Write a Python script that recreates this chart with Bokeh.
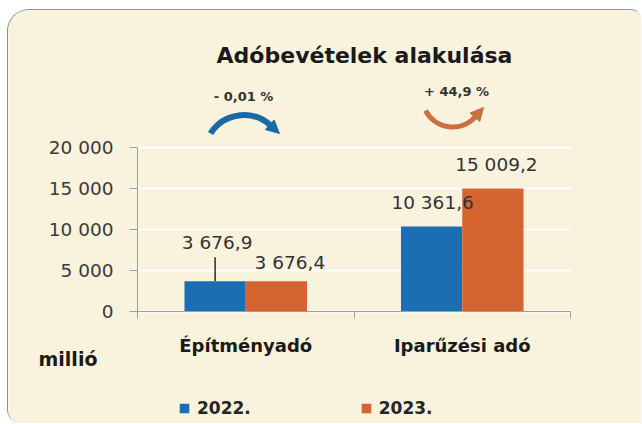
import math
from bokeh.plotting import figure
from bokeh.models import (Range1d, FixedTicker, Label, Legend, LegendItem,
                          Arrow, NormalHead)
from bokeh.embed import file_html
from bokeh.resources import INLINE
from bokeh.core.properties import value

# ---------------- data ----------------
categories = ["Építményadó", "Iparűzési adó"]
years = ["2022.", "2023."]
v2022 = [3676.9, 10361.6]
v2023 = [3676.4, 15009.2]
labels2022 = ["3 676,9", "10 361,6"]
labels2023 = ["3 676,4", "15 009,2"]
changes = ["- 0,01 %", "+ 44,9 %"]
yticks = [0, 5000, 10000, 15000, 20000]
ytick_labels = ["0", "5 000", "10 000", "15 000", "20 000"]
title_text = "Adóbevételek alakulása"
unit_text = "millió"

# ---------------- layout (page pixels) ----------------
OX, OY = 8, 10         # canvas origin on page
W, H = 634, 414
FX, FY = 137, 311      # page position of the axes' origin
FW = 433               # width spanned by the categories
Y20 = 147              # page y of 20 000
PXU = FW / len(categories)
PYU = (FY - Y20) / 20000.0


def dx(px):
    return (px - FX) / PXU


def dy(py):
    return (FY - py) / PYU


BLUE = "#1c6eb2"
ORANGE = "#d66430"
BLUE_ARROW = "#1869a5"
ORANGE_ARROW = "#c87040"
BEIGE = "#f9f2dc"
AXIS = "#9a9dac"
FONT = "DejaVu Sans"

p = figure(width=W, height=H,
           x_range=Range1d(dx(OX), dx(OX + W)), y_range=Range1d(dy(OY + H), dy(OY)),
           output_backend="svg", toolbar_location=None, title=None,
           min_border=0, min_border_left=0, min_border_right=0,
           min_border_top=0, min_border_bottom=0)
p.background_fill_color = BEIGE
p.border_fill_color = BEIGE
p.outline_line_color = None
p.styles = {"margin-left": f"{OX - 1}px", "margin-top": f"{OY - 1}px",
            "border-top": "1px solid #8f8f8f", "border-left": "1px solid #8f8f8f",
            "border-radius": "22px 10px 0 14px", "overflow": "hidden"}

# grid: white lines across the category span only
p.xgrid.grid_line_color = None
p.ygrid.grid_line_color = None
ncat = len(categories)
p.segment(x0=[0] * len(yticks), x1=[ncat] * len(yticks), y0=yticks, y1=yticks,
          line_color="#ffffff", line_width=2)

# y axis (fixed at x = 0)
ya = p.yaxis[0]
ya.fixed_location = 0
ya.ticker = FixedTicker(ticks=yticks)
ya.major_label_overrides = dict(zip(yticks, ytick_labels))
ya.bounds = (0, yticks[-1])
ya.major_tick_out = 8
ya.major_tick_in = 0
ya.minor_tick_out = 0
ya.minor_tick_in = 0
ya.axis_line_color = AXIS
ya.major_tick_line_color = AXIS
ya.major_label_standoff = 16
ya.major_label_text_font = FONT
ya.major_label_text_font_size = "18.5px"
ya.major_label_text_color = "#3a3a3a"

# x axis (fixed at y = 0)
xa = p.xaxis[0]
xa.fixed_location = 0
centers = [i + 0.5 for i in range(ncat)]
xa.ticker = FixedTicker(ticks=centers, minor_ticks=list(range(ncat + 1)))
xa.major_label_overrides = dict(zip(centers, categories))
xa.bounds = (0, ncat)
xa.major_tick_out = 0
xa.major_tick_in = 0
xa.minor_tick_out = 7
xa.minor_tick_in = 0
xa.minor_tick_line_color = AXIS
xa.axis_line_color = AXIS
xa.major_label_standoff = 16
xa.major_label_text_font = FONT
xa.major_label_text_font_style = "bold"
xa.major_label_text_font_size = "18px"
xa.major_label_text_color = "#1a1a1a"

# bars
bw = 0.283
x22 = [c - bw / 2 for c in centers]
x23 = [c + bw / 2 for c in centers]
r22 = p.vbar(x=x22, top=v2022, bottom=0, width=bw, fill_color=BLUE, line_color=None)
r23 = p.vbar(x=x23, top=v2023, bottom=0, width=bw, fill_color=ORANGE, line_color=None)

# leader line for first label
p.segment(x0=[x22[0]], y0=[v2022[0]], x1=[x22[0]], y1=[v2022[0] + 24 / PYU],
          line_color="#2a2a2a", line_width=1.5)

# data labels (pixel nudges kept apart from the data)
nudge22 = [2.0, 1.0]
gap22 = [39, 24]
nudge23 = [13.5, 3.5]
gap23 = [19, 24]
p.text(x=[x + n / PXU for x, n in zip(x22, nudge22)],
       y=[v + g / PYU for v, g in zip(v2022, gap22)], text=labels2022,
       text_font=value(FONT), text_font_size="18.5px", text_color="#333333",
       text_align="center", text_baseline="middle")
p.text(x=[x + n / PXU for x, n in zip(x23, nudge23)],
       y=[v + g / PYU for v, g in zip(v2023, gap23)], text=labels2023,
       text_font=value(FONT), text_font_size="18.5px", text_color="#333333",
       text_align="center", text_baseline="middle")

# title
p.add_layout(Label(x=dx(364), y=dy(54.5), text=title_text, text_font=FONT,
                   text_font_style="bold", text_font_size="22px", text_color="#1a1a1a",
                   text_align="center", text_baseline="middle"))

# change labels
p.text(x=[dx(243), dx(456)], y=[dy(95.5), dy(91)], text=changes,
       text_font=value(FONT), text_font_style="bold", text_font_size="13px",
       text_color="#333333", text_align="center", text_baseline="middle")


# curved arrows
def curved_arrow(cx, cy, r, a0, a1, head_at_start_of_cw, color, lw):
    p.arc(x=[dx(cx)], y=[dy(cy)], radius=r, radius_units="screen",
          start_angle=math.radians(a0), end_angle=math.radians(a1),
          line_color=color, line_width=lw)
    if head_at_start_of_cw:
        a = math.radians(a0)
        d = a - math.pi / 2
    else:
        a = math.radians(a1)
        d = a + math.pi / 2
    ex, ey = cx + r * math.cos(a), cy - r * math.sin(a)
    tx, ty = ex + 12 * math.cos(d), ey - 12 * math.sin(d)
    p.add_layout(Arrow(end=NormalHead(size=13, fill_color=color, line_color=color, line_width=1),
                       x_start=dx(ex), y_start=dy(ey), x_end=dx(tx), y_end=dy(ty),
                       line_color=None))


curved_arrow(243.4, 154.1, 39.5, 47.6, 147.7, True, BLUE_ARROW, 6)
curved_arrow(452.1, 95.95, 30.5, -152.6, -41.2, False, ORANGE_ARROW, 5)

# unit label
p.add_layout(Label(x=dx(67.5), y=dy(358), text=unit_text, text_font=FONT,
                   text_font_style="bold", text_font_size="19px", text_color="#1a1a1a",
                   text_align="center", text_baseline="middle"))

# legend
legend = Legend(items=[LegendItem(label=years[0], renderers=[r22]),
                       LegendItem(label=years[1], renderers=[r23])],
                orientation="horizontal", location=(178 - OX, OY + H - 418),
                glyph_width=12, glyph_height=12, label_standoff=7, spacing=109,
                padding=0, margin=0, border_line_color=None, background_fill_alpha=0,
                label_text_font=FONT, label_text_font_style="bold",
                label_text_font_size="17px", label_text_color="#262626")
p.add_layout(legend)

open("out.html", "w").write(file_html(p, INLINE))
